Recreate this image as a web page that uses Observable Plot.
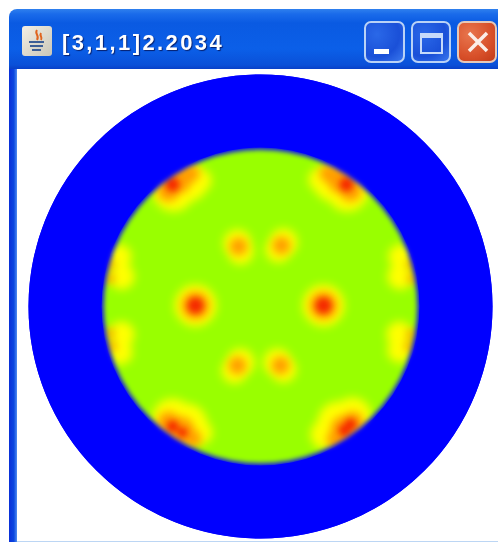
<!DOCTYPE html>
<html>
<head>
<meta charset="utf-8">
<script src="https://cdn.jsdelivr.net/npm/d3@7"></script>
<script src="https://cdn.jsdelivr.net/npm/@observablehq/plot@0.6"></script>
<style>
html,body{margin:0;padding:0;background:#fff;width:498px;height:542px;overflow:hidden}
#win{position:absolute;left:9px;top:9px;width:489px;height:60px;border-radius:8px 0 0 0;
 background:linear-gradient(#2f80ee 0,#1a6bea 5px,#0a5ae2 14px,#0b5fe8 40px,#0a50d8 56px,#0840c8 60px);}
#title{position:absolute;left:53px;top:21px;font:bold 22px "Liberation Sans",sans-serif;letter-spacing:2.4px;color:#fff;text-shadow:1px 1px 1px #06206e;white-space:nowrap}
#icon{position:absolute;left:13px;top:17px;width:30px;height:30px;border-radius:3px;background:linear-gradient(135deg,#f4efe4,#c9c6b8)}
.btn{position:absolute;top:12px;height:42px;border:2px solid #b9d2f6;border-radius:7px;box-sizing:border-box;background:radial-gradient(circle at 30% 30%,#2a68e8,#1a50d8 60%,#3a78ee)}
#b1{left:355px;width:41px}#b2{left:402px;width:40px}#b3{left:448px;width:40px;background:radial-gradient(circle at 30% 30%,#e8764e,#d8502a 60%,#c23a18);border-color:#e6c8b8}
#b1 i{position:absolute;left:8px;bottom:7px;width:15px;height:5px;background:#fff}
#b2 i{position:absolute;left:7px;top:10px;width:23px;height:21px;border:2px solid #c6dafa;border-top-width:5px;box-sizing:border-box}
#b3 svg{position:absolute;left:6px;top:6px}
#left{position:absolute;left:9px;top:69px;width:8px;height:473px;background:linear-gradient(90deg,#0a30d8,#0a46e0 60%,#4f8cf0)}
#bottom{position:absolute;left:17px;top:541px;width:481px;height:1px;background:#bcd6f4}
#chart{position:absolute;left:17px;top:69px;width:481px;height:473px}
.b5{filter:blur(2.5px)}.y{filter:blur(5px)}.o{filter:blur(4px)}.r{filter:blur(3px)}
#win{filter:blur(.5px)}
</style>
</head>
<body>
<div id="win">
 <div id="icon"><svg width="30" height="30"><path d="M15 4c-3 4 3 5 0 10M19 7c-2 3 2 4 0 7" stroke="#e0641e" stroke-width="2" fill="none"/><path d="M7 16h15M8 20h13M10 24h9" stroke="#3d5f96" stroke-width="2"/></svg></div>
 <div id="title">[3,1,1]2.2034</div>
 <div class="btn" id="b1"><i></i></div>
 <div class="btn" id="b2"><i></i></div>
 <div class="btn" id="b3"><svg width="26" height="26"><path d="M4 4L22 22M22 4L4 22" stroke="#fbeee8" stroke-width="3.5"/></svg></div>
</div>
<div id="left"></div>
<div id="chart"></div>
<div id="bottom"></div>
<script>
// spots: [x, y, radius] relative to the disk's centre, y up
const yellowSpots = [
  [-23,63,14],[-20,55,13],[18,57,13],[23,64,14],[-26,-64,13],[-20,-56,14],[17,-56,14],[23,-63,13],
  [-65,1,21],[63,1,21],
  [-87,116,21],[-72,124,19],[-61,126,12],[87,116,21],[72,124,19],[60,127,12],
  [-88,-112,20],[-74,-118,21],[-60,-126,12],[92,-110,19],[78,-116,21],[65,-128,15],
  [-141,50,12],[-139,30,13],[-139,-28,13],[-140,-46,12],
  [140,50,12],[140,30,13],[139,-28,13],[139,-44,12]
];
const orangeSpots = [
  [-22,60,9],[21,61,9],[-23,-59,9],[20,-59,9],
  [-65,1,14],[63,1,14],
  [-92,116,11],[-82,126,13],[-70,133,9],[90,116,11],[80,126,13],[68,133,9],
  [-92,-116,11],[-80,-124,14],[-68,-132,9],[92,-116,11],[84,-123,14],[75,-133,9],
  [-151,42,5],[-151,28,5],[-151,-27,5],[-149,-40,5],
  [151,42,5],[152,28,5],[151,-28,5],[149,-40,5]
];
const redSpots = [
  [-65,1,8],[63,1,8],
  [-88,122,7],[86,122,7],
  [-88,-120,6],[-78,-126,5],[90,-118,6],[84,-124,6]
];
const diskCenter = [[0,0]];
const levels = ["ground","halo","warm","hot","cold"];
const levelColors = ["#99ff00","#ffff00","#ff9e00","#f52a00","#0000ff"];

const layer = (rows, level, cls) => Plot.dot(rows, {
  x: d => d[0], y: d => d[1], r: d => d[2],
  fill: () => level, className: cls
});
const disk = (radius, level, opts) => Plot.dot(diskCenter, {
  x: d => d[0], y: d => d[1], r: () => radius, fill: () => level, ...opts
});

const chart = Plot.plot({
  width: 481, height: 473,
  marginLeft: 0, marginRight: 0, marginTop: 0, marginBottom: 0,
  style: {background: "transparent", overflow: "visible"},
  x: {domain: [-243, 238], axis: null},
  y: {domain: [-236, 237], axis: null},
  r: {type: "identity"},
  color: {domain: levels, range: levelColors},
  marks: [
    disk(232, "cold", {}),
    disk(159, "ground", {}),
    layer(yellowSpots, "halo", "y"),
    layer(orangeSpots, "warm", "o"),
    layer(redSpots, "hot", "r"),
    Plot.dot(diskCenter, {x: d => d[0], y: d => d[1], r: () => 185, fill: "none", stroke: () => "cold", strokeWidth: 56, className: "b5"}),
    Plot.dot(diskCenter, {x: d => d[0], y: d => d[1], r: () => 201, fill: "none", stroke: () => "cold", strokeWidth: 62})
  ]
});
document.getElementById("chart").appendChild(chart);
</script>
</body>
</html>
